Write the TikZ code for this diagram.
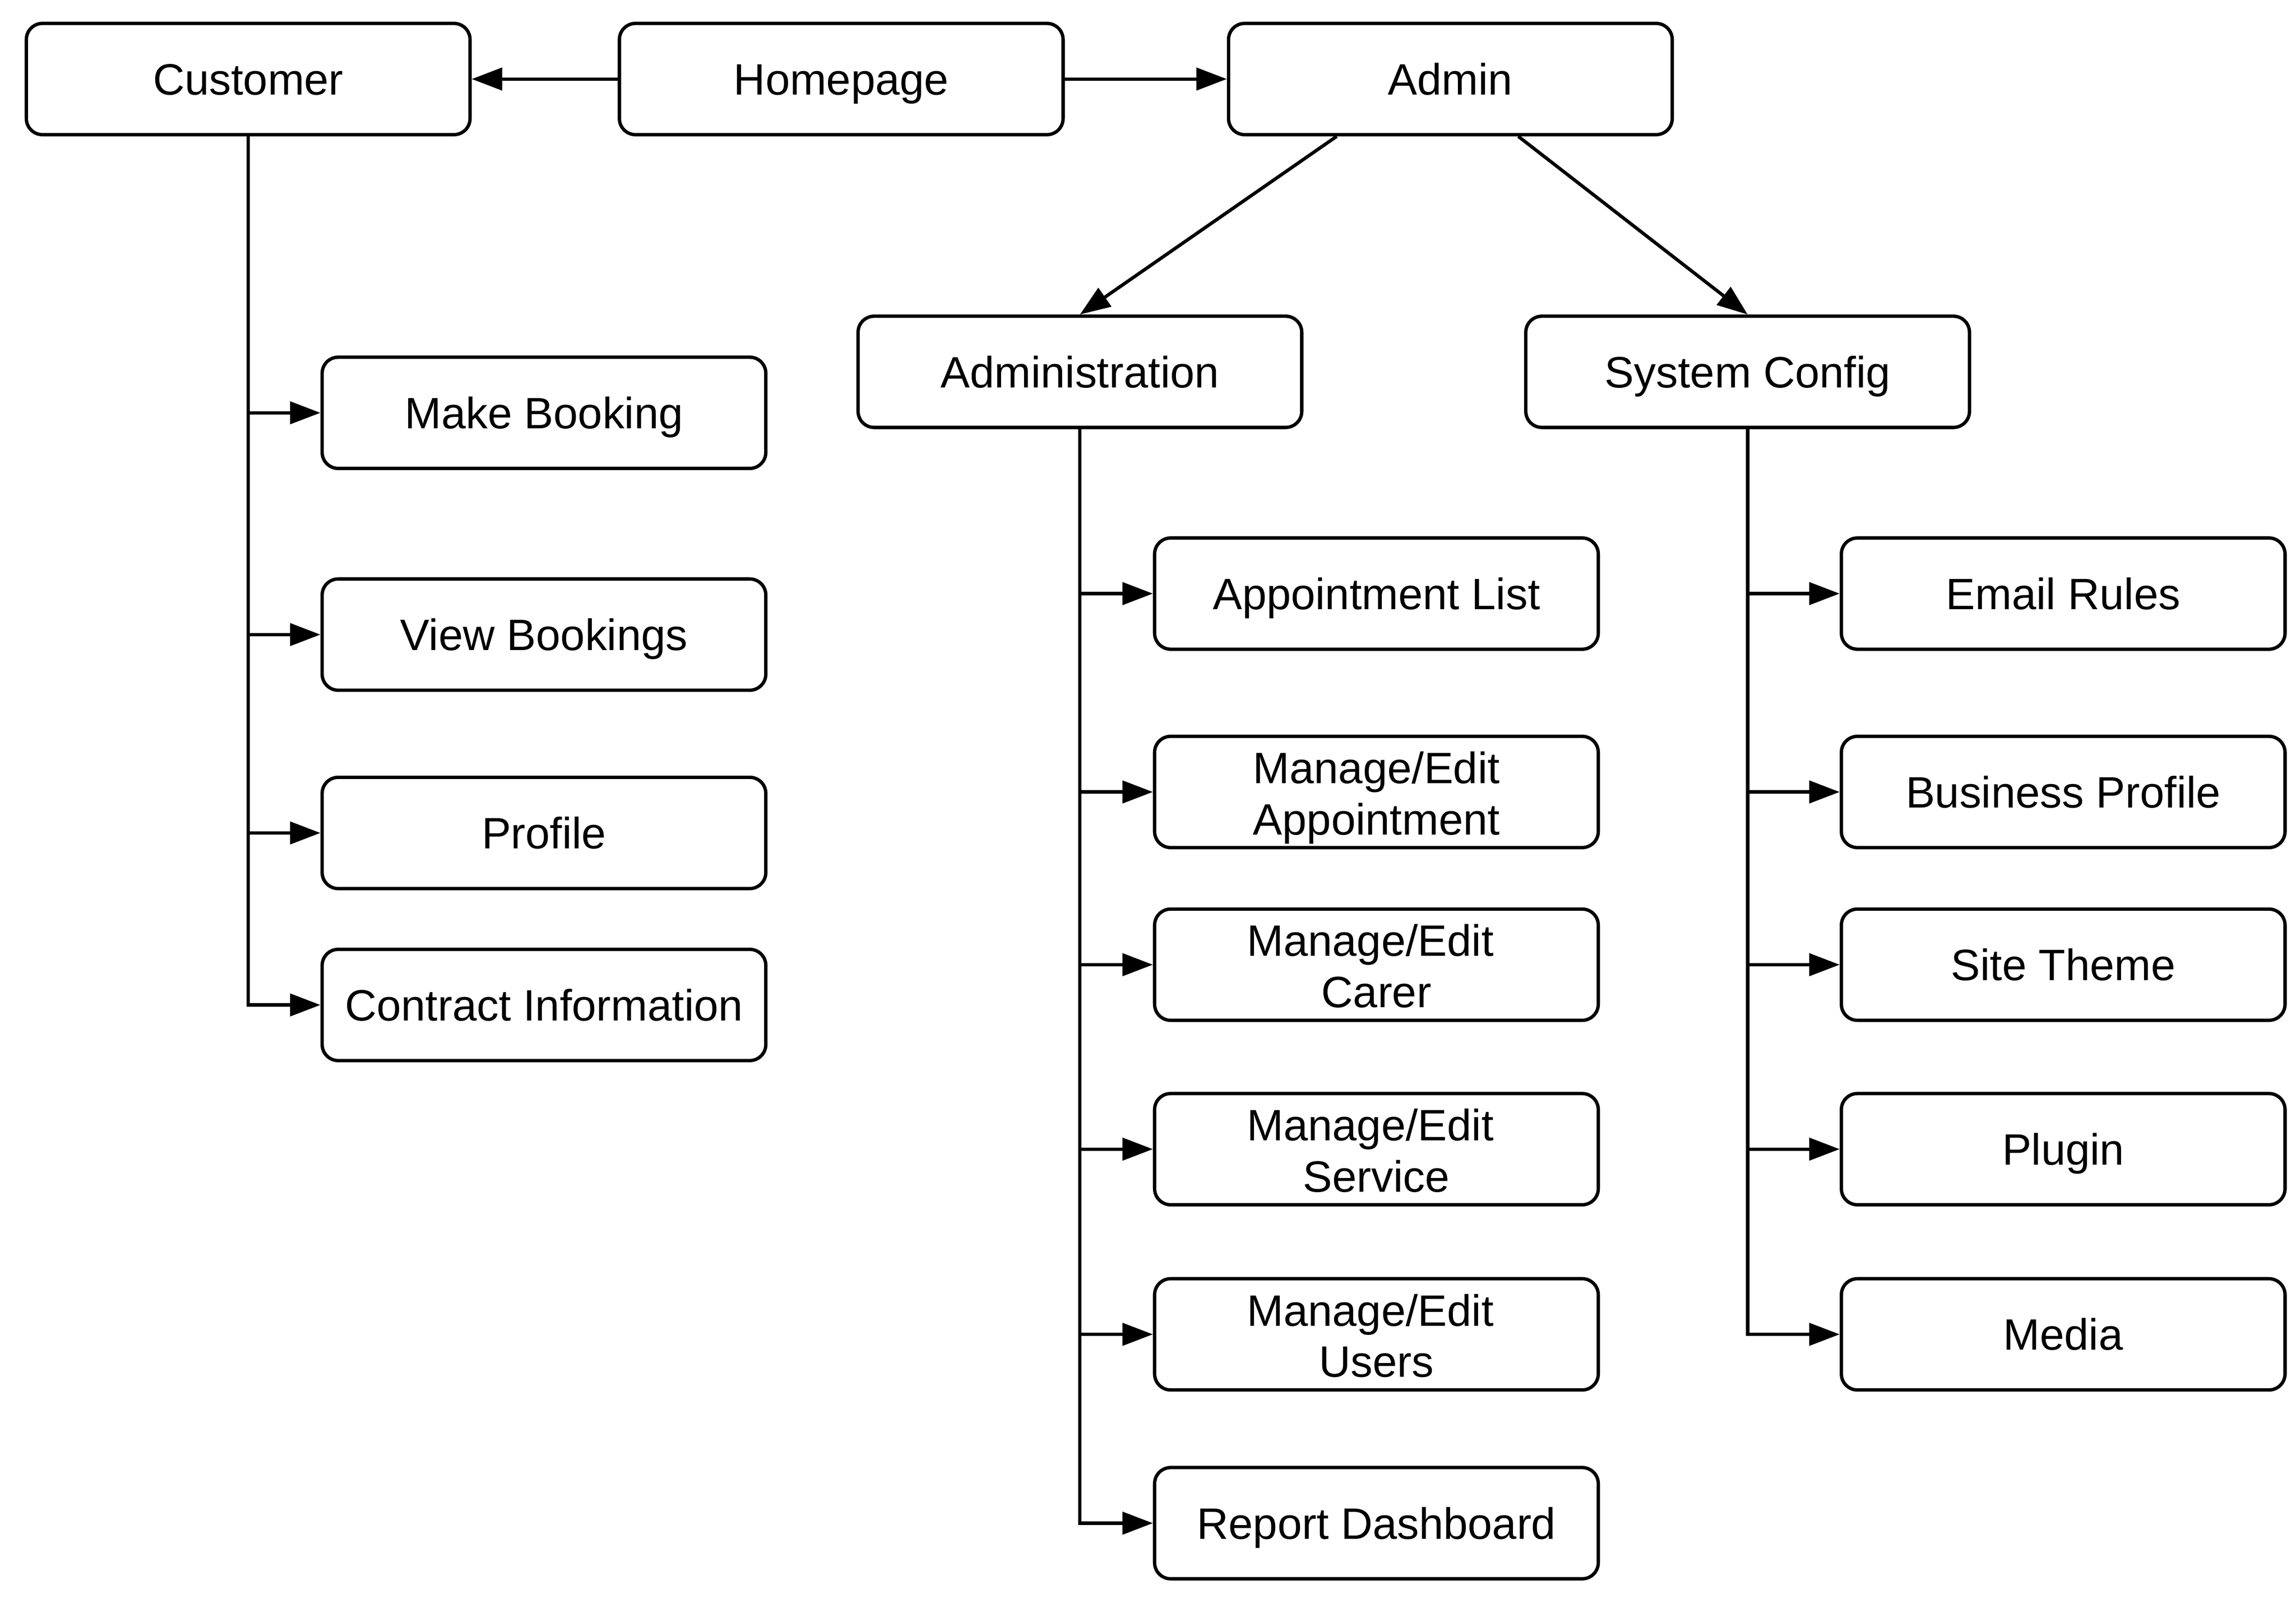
\documentclass[tikz,border=0pt]{standalone}
\usepackage{fontspec}
\setmainfont{Liberation Sans}
\usetikzlibrary{arrows.meta}
\newcommand\pagestrut{\rule[-3.3pt]{0pt}{17.3pt}}
\newcommand\tailspace{\hspace*{0.278em}}
\tikzset{every picture/.style={line width=1.15pt}}
\tikzset{
  page/.style={draw, rounded corners=5.5pt, minimum width=151.5pt, minimum height=38pt,
    inner sep=0pt, align=center, font=\fontsize{15}{17.5}\selectfont,
    execute at begin node=\pagestrut, execute at end node=\pagestrut},
  twoline/.style={page, execute at begin node=\rule{0pt}{32.5pt}},
  link/.style={-{Triangle[length=10.4pt,width=7.6pt]}}
}

\begin{document}
\begin{tikzpicture}[x=0.5pt,y=0.5pt,yscale=-1,xscale=1]
\useasboundingbox (0,0) rectangle (1568,1095.6);

% top row
\node [page] (customer) at (169.5,54) {Customer};
\node [page] (homepage) at (574.5,54) {Homepage};
\node [page] (admin) at (990.5,54) {Admin};

% second row
\node [page] (administration) at (737.5,254) {Administration};
\node [page] (sysconfig) at (1193.5,254) {System Config};

% customer pages
\node [page] (booking) at (371.5,282) {Make Booking};
\node [page] (viewbook) at (371.5,433.5) {View Bookings};
\node [page] (profile) at (371.5,569) {Profile};
\node [page] (contract) at (371.5,686.5) {Contract Information};

% administration pages
\node [page] (applist) at (940,405.5) {Appointment List};
\node [twoline] (editapp) at (940,541) {Manage/Edit\\Appointment};
\node [twoline] (editcarer) at (940,659) {Manage/Edit\tailspace\\Carer};
\node [twoline] (editservice) at (940,785) {Manage/Edit\tailspace\\Service};
\node [twoline] (editusers) at (940,911.5) {Manage/Edit\tailspace\\Users};
\node [page] (report) at (940,1040.5) {Report Dashboard};

% system config pages
\node [page] (email) at (1409,405.5) {Email Rules};
\node [page] (business) at (1409,541) {Business Profile};
\node [page] (theme) at (1409,659) {Site Theme};
\node [page] (plugin) at (1409,785) {Plugin};
\node [page] (media) at (1409,911.5) {Media};

% connectors
\draw [link] (homepage) -- (customer);
\draw [link] (homepage) -- (admin);
\draw [link] ([xshift=37.5pt]admin.south west) -- (administration.north);
\draw [link] ([xshift=99.5pt]admin.south west) -- (sysconfig.north);

\foreach \p in {booking,viewbook,profile,contract}
  \draw [link] (customer.south) |- (\p.west);
\foreach \p in {applist,editapp,editcarer,editservice,editusers,report}
  \draw [link] (administration.south) |- (\p.west);
\foreach \p in {email,business,theme,plugin,media}
  \draw [link] (sysconfig.south) |- (\p.west);

\end{tikzpicture}
\end{document}
